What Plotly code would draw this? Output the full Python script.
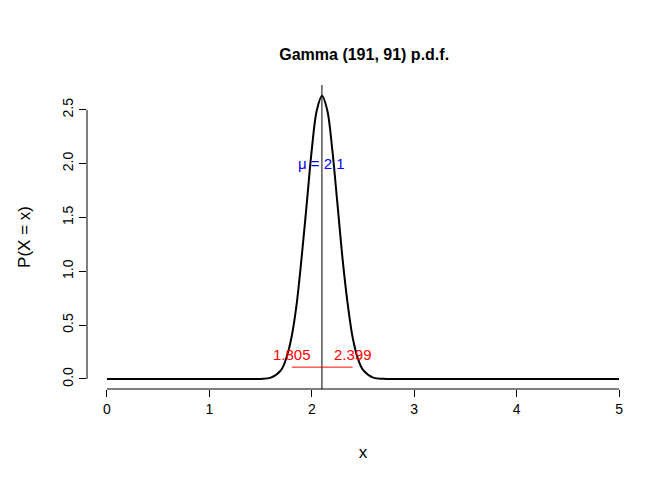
import plotly.graph_objects as go

# density values
x_vals = [0.0, 1.0, 1.4, 1.5, 1.6, 1.7, 1.75, 1.8, 1.85, 1.9, 1.95, 2.0, 2.05, 2.1,
          2.15, 2.2, 2.25, 2.3, 2.35, 2.4, 2.45, 2.5, 2.6, 2.7, 2.8, 3.0, 5.0]
y_vals = [0.0, 0.0, 0.0, 0.001, 0.012, 0.083, 0.19, 0.378, 0.68, 1.12, 1.62, 2.13, 2.50, 2.63,
          2.50, 2.13, 1.63, 1.12, 0.70, 0.38, 0.19, 0.085, 0.013, 0.002, 0.0, 0.0, 0.0]
mean_val = 2.099
ci_lo, ci_hi = 1.805, 2.399
x_ticks = [0, 1, 2, 3, 4, 5]
y_ticks = [0.0, 0.5, 1.0, 1.5, 2.0, 2.5]

font = dict(family="Liberation Sans, Arial, sans-serif", size=14, color="black")

fig = go.Figure()
fig.add_trace(go.Scatter(x=x_vals, y=y_vals, mode="lines", line=dict(color="black", width=2, shape="spline")))

fig.add_shape(type="line", xref="x", yref="paper", x0=mean_val, x1=mean_val, y0=0, y1=1,
              line=dict(color="black", width=1))
fig.add_shape(type="line", xref="x", yref="y", x0=ci_lo, x1=ci_hi, y0=0.11, y1=0.11,
              line=dict(color="red", width=1))
# R-style detached axis lines
fig.add_shape(type="line", xref="x", yref="paper", x0=0, x1=5, y0=0, y1=0, line=dict(color="black", width=1))
fig.add_shape(type="line", xref="paper", yref="y", x0=0, x1=0, y0=0, y1=2.5, line=dict(color="black", width=1))

fig.add_annotation(x=mean_val, y=2.0, text="\u03bc = 2.1", showarrow=False, font=dict(color="blue", size=15))
fig.add_annotation(x=ci_lo, y=0.23, text=f"{ci_lo:.3f}", showarrow=False, font=dict(color="red", size=15))
fig.add_annotation(x=ci_hi, y=0.23, text=f"{ci_hi:.3f}", showarrow=False, font=dict(color="red", size=15))

fig.update_layout(
    width=672, height=480,
    margin=dict(l=79, r=41, t=77, b=99, autoexpand=False),
    paper_bgcolor="white", plot_bgcolor="white",
    font=font, showlegend=False,
    title=dict(text="<b>Gamma (191, 91) p.d.f.</b>", x=0.53, xanchor="center", y=0.915, font=dict(size=16)),
    xaxis=dict(range=[-0.195, 5.195], tickvals=x_ticks, showgrid=False, zeroline=False, showline=False,
               ticks="outside", ticklen=7, tickcolor="black", automargin=False,
               title=dict(text="x", standoff=30)),
    yaxis=dict(range=[-0.093, 2.73], tickvals=y_ticks, tickformat=".1f", tickangle=-90,
               showgrid=False, zeroline=False, showline=False,
               ticks="outside", ticklen=7, tickcolor="black", automargin=False,
               title=dict(text="P(X = x)", standoff=25)),
)

fig.write_html("out.html")
